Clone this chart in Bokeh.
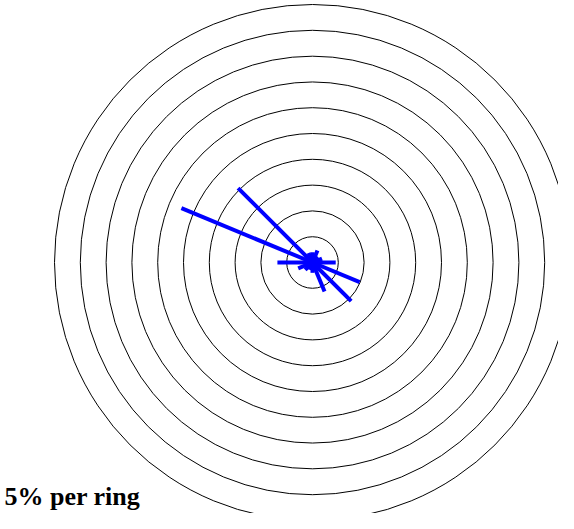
import numpy as np
from bokeh.plotting import figure
from bokeh.core.properties import value
from bokeh.embed import file_html
from bokeh.resources import INLINE

directions = ["N", "NNE", "NE", "ENE", "E", "ESE", "SE", "SSE",
              "S", "SSW", "SW", "WSW", "W", "WNW", "NW", "NNW"]
bearings = [0, 22.5, 45, 67.5, 90, 112.5, 135, 157.5,
            180, 202.5, 225, 247.5, 270, 292.5, 315, 337.5]
percent = [2.0, 2.5, 1.5, 2.0, 4.5, 9.9, 10.6, 6.1,
           2.0, 1.5, 2.0, 3.0, 6.8, 27.5, 20.4, 2.0]
ring_values = [5, 10, 15, 20, 25, 30, 35, 40, 45, 50]
caption = "5% per ring"

W, H = 558, 513
scale = 5.16  # px per percent
cx, cy = 312, 262  # centre in canvas pixels (from top-left)

p = figure(width=W, height=H, output_backend="svg", toolbar_location=None,
           x_range=(-cx / scale, (W - cx) / scale),
           y_range=(-(H - cy) / scale, cy / scale),
           min_border=0)
p.axis.visible = False
p.grid.visible = False
p.outline_line_color = None
p.background_fill_color = "white"

p.circle(x=[0] * len(ring_values), y=[0] * len(ring_values), radius=ring_values,
         fill_color=None, line_color="black", line_width=1)

theta = np.deg2rad(bearings)
v = np.array(percent)
x1 = v * np.sin(theta)
y1 = v * np.cos(theta)
p.segment(x0=np.zeros_like(x1), y0=np.zeros_like(y1), x1=x1, y1=y1,
          line_color="#0000ff", line_width=4)

p.text(x=[(4 - cx) / scale], y=[(cy - 510) / scale], text=[caption],
       text_font=value("Liberation Serif"), text_font_style="bold",
       text_font_size="26px", text_color="black",
       text_baseline="bottom", text_align="left")

open("out.html", "w").write(file_html(p, INLINE))
